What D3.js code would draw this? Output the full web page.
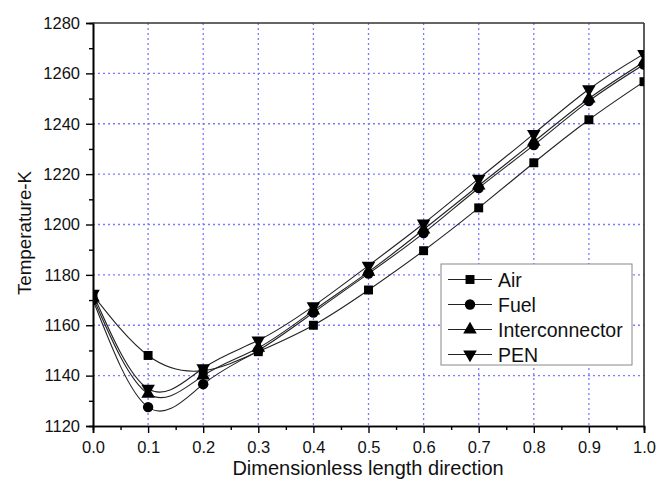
<!DOCTYPE html>
<html>
<head>
<meta charset="utf-8">
<script src="https://cdn.jsdelivr.net/npm/d3@7"></script>
<style>
  body { margin: 0; background: #fff; }
  svg { display: block; font-family: "Liberation Sans", Arial, sans-serif; }
</style>
</head>
<body>
<svg id="chart" width="656" height="481"></svg>
<script>
// data
var xs = [0.0, 0.1, 0.2, 0.3, 0.4, 0.5, 0.6, 0.7, 0.8, 0.9, 1.0];
var air = [1172, 1148, 1142, 1149.5, 1160, 1174, 1189.6, 1206.6, 1224.5, 1241.6, 1256.7];
var fuel = [1170, 1127.5, 1136.6, 1150, 1165, 1180.5, 1196.6, 1214.5, 1231.5, 1249, 1263.5];
var interconnector = [1171, 1132.8, 1140, 1151, 1165.8, 1181.2, 1198, 1215.5, 1232.8, 1250, 1264.5];
var pen = [1172.5, 1134.8, 1143, 1154, 1167.6, 1183.7, 1200.4, 1218.2, 1236, 1253.7, 1267.7];
var seriesNames = ["Air", "Fuel", "Interconnector", "PEN"];
var seriesSymbols = [d3.symbolSquare, d3.symbolCircle, d3.symbolTriangle, "down"];
var xTicks = [0, 0.1, 0.2, 0.3, 0.4, 0.5, 0.6, 0.7, 0.8, 0.9, 1.0];
var yTicks = [1120, 1140, 1160, 1180, 1200, 1220, 1240, 1260, 1280];

var allSeries = [air, fuel, interconnector, pen];

var svg = d3.select("#chart"),
    margin = {top: 23, right: 12, bottom: 55, left: 93},
    width = 656 - margin.left - margin.right,
    height = 481 - margin.top - margin.bottom,
    g = svg.append("g").attr("transform", "translate(" + margin.left + "," + margin.top + ")");

var x = d3.scaleLinear().domain([0, 1]).range([0, width]);
var y = d3.scaleLinear().domain([1120, 1280]).range([height, 0]);

g.append("clipPath").attr("id", "clip")
  .append("rect").attr("width", width).attr("height", height);

// grid
var grid = g.append("g").attr("stroke", "#7a7aff").attr("stroke-width", 1.3).attr("stroke-dasharray", "2,3");
grid.selectAll(".gx").data(xTicks.slice(1, -1)).enter().append("line")
  .attr("x1", d => x(d)).attr("x2", d => x(d)).attr("y1", 0).attr("y2", height);
grid.selectAll(".gy").data(yTicks.slice(1, -1)).enter().append("line")
  .attr("y1", d => y(d)).attr("y2", d => y(d)).attr("x1", 0).attr("x2", width);

// axes
var xAxis = g.append("g").attr("transform", "translate(0," + height + ")")
  .call(d3.axisBottom(x).tickValues(xTicks).tickFormat(d3.format(".1f")).tickSize(7).tickPadding(8));
var xMinor = g.append("g").attr("transform", "translate(0," + height + ")")
  .call(d3.axisBottom(x).tickValues(d3.range(0.05, 1, 0.1)).tickFormat("").tickSize(4));
var yAxis = g.append("g")
  .call(d3.axisLeft(y).tickValues(yTicks).tickFormat(d3.format("d")).tickSize(7).tickPadding(6));
var yMinor = g.append("g")
  .call(d3.axisLeft(y).tickValues(d3.range(1130, 1280, 20)).tickFormat("").tickSize(4));

[xAxis, xMinor, yAxis, yMinor].forEach(function(a) {
  a.select(".domain").attr("stroke", "#000").attr("stroke-width", 1.6);
  a.selectAll(".tick line").attr("stroke", "#000").attr("stroke-width", 1.4);
  a.selectAll(".tick text").attr("font-size", 16.5).attr("fill", "#111")
    .attr("font-family", "Liberation Sans, Arial, sans-serif");
});

// top and right frame
g.append("line").attr("x1", 0).attr("x2", width).attr("y1", 0).attr("y2", 0)
  .attr("stroke", "#333").attr("stroke-width", 1.6);
g.append("line").attr("x1", width).attr("x2", width).attr("y1", 0).attr("y2", height)
  .attr("stroke", "#333").attr("stroke-width", 1.6);

// series
function markerPath(sym) {
  if (sym === "down") {
    return d3.symbol().type(d3.symbolTriangle).size(80)();
  }
  if (sym === d3.symbolSquare) return d3.symbol().type(sym).size(80)();
  if (sym === d3.symbolCircle) return d3.symbol().type(sym).size(85)();
  return d3.symbol().type(sym).size(80)();
}

var line = d3.line()
  .x((d, i) => x(xs[i]))
  .y(d => y(d))
  .curve(d3.curveNatural);

var plot = g.append("g").attr("clip-path", "url(#clip)");
allSeries.forEach(function(s, k) {
  plot.append("path").datum(s)
    .attr("fill", "none").attr("stroke", "#222").attr("stroke-width", 1.1)
    .attr("d", line);
});
allSeries.forEach(function(s, k) {
  plot.selectAll(".m" + k).data(s).enter().append("path")
    .attr("d", markerPath(seriesSymbols[k]))
    .attr("transform", (d, i) => "translate(" + x(xs[i]) + "," + y(d) + ")" + (seriesSymbols[k] === "down" ? " rotate(180)" : ""))
    .attr("fill", "#000");
});

// axis titles
svg.append("text")
  .attr("x", 368).attr("y", 475)
  .attr("text-anchor", "middle").attr("font-size", 20).attr("fill", "#111")
  .text("Dimensionless length direction");
svg.append("text")
  .attr("transform", "translate(31,233) rotate(-90)")
  .attr("text-anchor", "middle").attr("font-size", 18.8).attr("fill", "#111")
  .text("Temperature-K");

// legend
var legend = svg.append("g").attr("transform", "translate(441,264)");
legend.append("rect").attr("width", 191).attr("height", 101)
  .attr("fill", "#fff").attr("stroke", "#888").attr("stroke-width", 1);
seriesNames.forEach(function(name, k) {
  var ly = 15.5 + k * 25;
  legend.append("line").attr("x1", 7).attr("x2", 51).attr("y1", ly).attr("y2", ly)
    .attr("stroke", "#222").attr("stroke-width", 1.1);
  legend.append("path").attr("d", markerPath(seriesSymbols[k]))
    .attr("transform", "translate(29," + ly + ")" + (seriesSymbols[k] === "down" ? " rotate(180)" : ""))
    .attr("fill", "#000");
  legend.append("text").attr("x", 57).attr("y", ly + 7)
    .attr("font-size", 19.5).attr("fill", "#111").text(name);
});
</script>
</body>
</html>
